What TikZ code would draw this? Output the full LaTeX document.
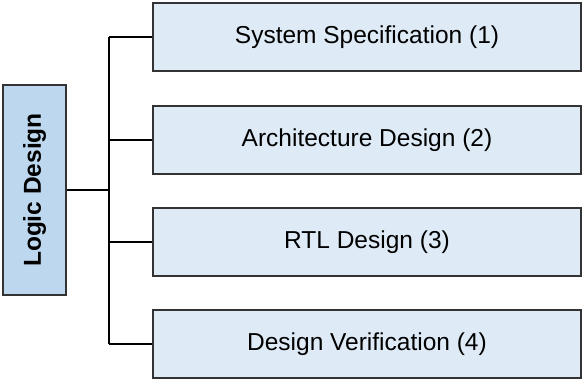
\documentclass[tikz,border=0pt]{standalone}
\usepackage{fontspec}
\setmainfont{Liberation Sans}
\begin{document}
\begin{tikzpicture}[x=1pt,y=-1pt,
  every node/.style={font=\fontsize{24.5}{29}\selectfont},
  rootbox/.style={draw=black!80,line width=1.3pt,fill=rootfill,minimum width=63pt,minimum height=210pt,inner sep=0pt},
  stagebox/.style={draw=black!80,line width=1.3pt,fill=stagefill,minimum width=428pt,minimum height=68pt,inner sep=0pt},
  link/.style={draw=black,line width=1.5pt}]
\definecolor{rootfill}{HTML}{BDD7EE}
\definecolor{stagefill}{HTML}{DEEBF7}
\path[use as bounding box,fill=white] (0,0) rectangle (582,381);

\node[rootbox] (root) at (34.5,190) {};
\node[rotate=90,font=\fontsize{24.5}{29}\selectfont\bfseries] at (root.center) {Logic Design};

\node[stagebox] (s1) at (367,37) {System Specification (1)};
\node[stagebox] (s2) at (367,140) {Architecture Design (2)};
\node[stagebox] (s3) at (367,242) {RTL Design (3)};
\node[stagebox] (s4) at (367,344) {Design Verification (4)};

% vertical trunk at x = 109 with branches to each stage
\coordinate (top) at (109,0 |- s1.west);
\coordinate (bot) at (109,0 |- s4.west);
\coordinate (mid) at (109,0 |- root.east);

\draw[link] (top) -- (bot);
\draw[link] (root.east) -- (mid);
\draw[link] (top) -- (s1.west);
\draw[link] (109,0 |- s2.west) -- (s2.west);
\draw[link] (109,0 |- s3.west) -- (s3.west);
\draw[link] (bot) -- (s4.west);
\end{tikzpicture}
\end{document}
